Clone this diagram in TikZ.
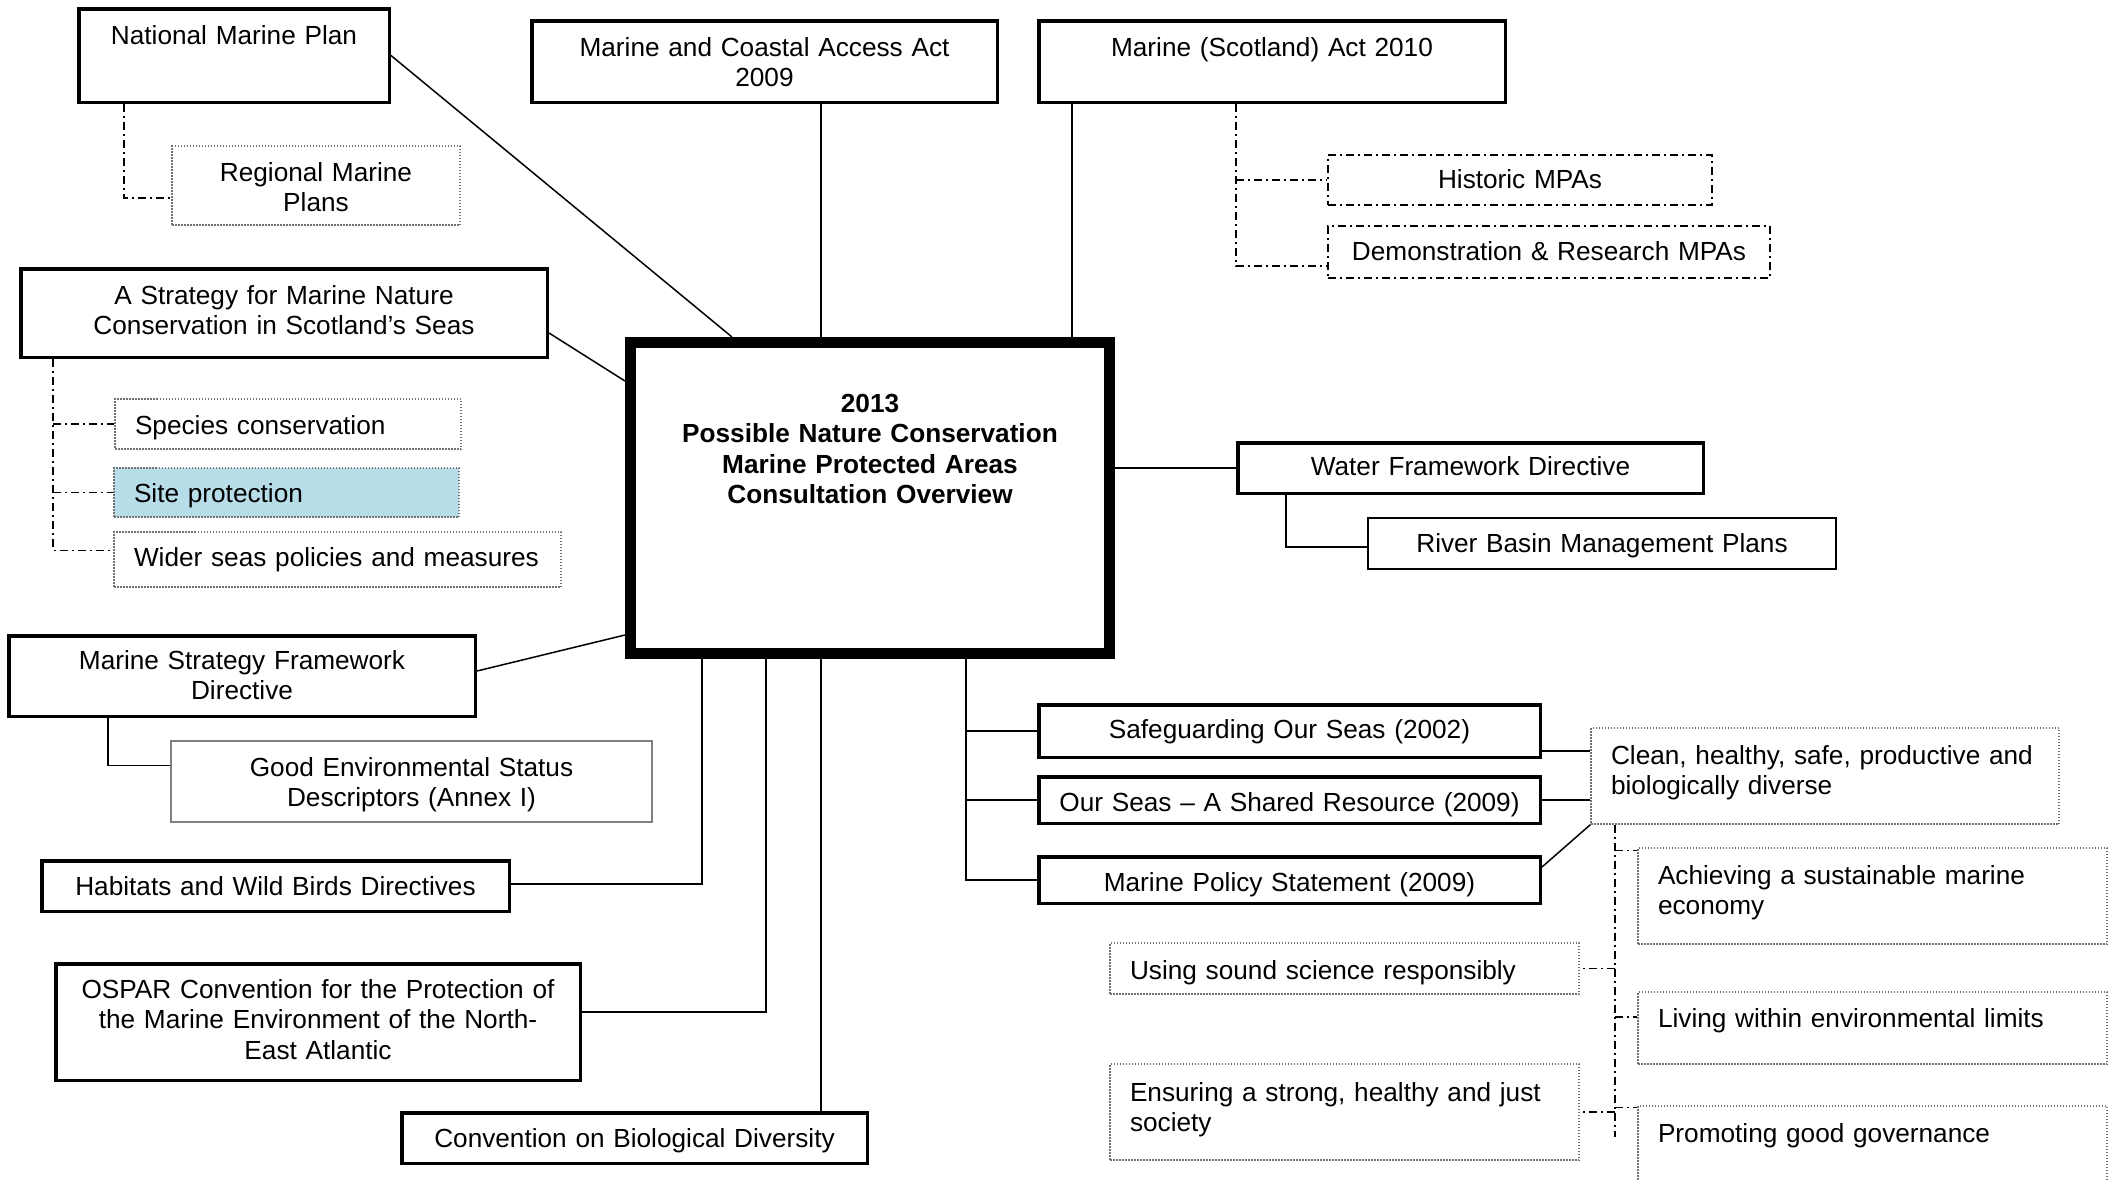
\documentclass[tikz,border=0pt]{standalone}
\usepackage{fontspec}
\setmainfont{Liberation Sans}
\usetikzlibrary{calc}
\definecolor{siteblue}{HTML}{B7DDE8}
\begin{document}
\begin{tikzpicture}[x=1pt,y=-1pt,
  every node/.style={font=\fontsize{26.2}{30.6}\selectfont, inner ysep=0pt},
  cb/.style n args={4}{minimum width=#1pt, text width=#2pt, inner xsep=10pt, text height=#3pt, text depth=#4pt, align=center},
  lb/.style n args={4}{minimum width=#1pt, text width=#2pt, inner xsep=20pt, text height=#3pt, text depth=#4pt, align=left},
  thickbox/.style={draw, line width=3.5pt},
  thinbox/.style={draw, line width=1.5pt},
  dotbox/.style={draw=black!55, line width=1.2pt, dash pattern=on 1.5pt off 1.5pt},
  ddbox/.style={draw, line width=1.5pt, dash pattern=on 8pt off 4pt on 2pt off 4pt},
  conn/.style={line width=1.5pt},
  dconn/.style={line width=1.5pt, dash pattern=on 8pt off 4pt on 2pt off 4pt}]
\fill[white] (0,0) rectangle (2114,1179);
\clip (0,0) rectangle (2114,1179);

% guide x positions
\coordinate (gx821) at (821,0);
\coordinate (gx1072) at (1072,0);
\coordinate (gx124) at (124,0);
\coordinate (gx53) at (53,0);
\coordinate (gx1236) at (1236,0);
\coordinate (gx1286) at (1286,0);
\coordinate (gx108) at (108,0);
\coordinate (gx702) at (702,0);
\coordinate (gx766) at (766,0);
\coordinate (gx966) at (966,0);
\coordinate (gx1615) at (1615,0);
\coordinate (cbot) at (1615,1137);

% centre
\node[draw, line width=11pt, font=\fontsize{26.2}{30.6}\selectfont\bfseries, cb={479}{459}{69.5}{241.5}] (ctr) at (870,498)
  {2013\\Possible Nature Conservation\\Marine Protected Areas\\Consultation Overview};

% top row
\node[thickbox, cb={310.5}{290.5}{35.25}{58.25}] (nmp) at (234,55.5) {National Marine Plan};
\node[thickbox, cb={465.5}{445.5}{35.25}{46.25}] (mcaa) at (764.5,61.5) {Marine and Coastal Access Act\\2009};
\node[thickbox, cb={466.5}{446.5}{35.25}{46.25}] (msa) at (1272,61.5) {Marine (Scotland) Act 2010};
\node[dotbox, cb={288}{268}{35}{44}] (reg) at (316,185.5) {Regional Marine\\Plans};
\node[ddbox, cb={384}{364}{33}{17}] (hist) at (1520,180) {Historic MPAs};
\node[ddbox, cb={442}{422}{34}{18}] (demo) at (1549,252) {Demonstration \& Research MPAs};

% left
\node[thickbox, cb={526.5}{506.5}{35.25}{53.25}] (strat) at (284,313) {A Strategy for Marine Nature\\Conservation in Scotland’s Seas};
\node[dotbox, lb={346}{306}{35}{15}] (spc) at (288,424) {\mbox{Species conservation}};
\node[dotbox, fill=siteblue, lb={345}{305}{34}{15}] (site) at (286.5,492.5) {\mbox{Site protection}};
\node[dotbox, lb={447}{407}{34}{21}] (wider) at (337.5,559.5) {\mbox{Wider seas policies and measures}};
\node[thickbox, cb={466.5}{446.5}{33.25}{47.25}] (msfd) at (242,676) {Marine Strategy Framework\\Directive};
\node[thinbox, draw=black!50, cb={481}{461}{35}{46}] (ges) at (411.5,781.5) {Good Environmental Status\\Descriptors (Annex I)};
\node[thickbox, cb={467.5}{447.5}{34.25}{16.25}] (hab) at (275.5,886) {Habitats and Wild Birds Directives};
\node[thickbox, cb={524.5}{504.5}{34.25}{82.25}] (ospar) at (318,1022) {OSPAR Convention for the Protection of\\the Marine Environment of the North-\\East Atlantic};
\node[thickbox, cb={465.5}{445.5}{34.25}{16.25}] (cbd) at (634.5,1138) {Convention on Biological Diversity};

% right
\node[thickbox, cb={465.5}{445.5}{32.25}{18.25}] (wfd) at (1470.5,468) {Water Framework Directive};
\node[thinbox, cb={468}{448}{34}{17}] (rbmp) at (1602,543.5) {River Basin Management Plans};
\node[thickbox, cb={501.5}{481.5}{33.25}{19.25}] (sos) at (1289.5,731) {Safeguarding Our Seas (2002)};
\node[thickbox, cb={501.5}{481.5}{34.25}{12.25}] (osr) at (1289.5,800) {Our Seas – A Shared Resource (2009)};
\node[thickbox, cb={501.5}{481.5}{34.25}{12.25}] (mps) at (1289.5,880) {Marine Policy Statement (2009)};
\node[dotbox, lb={468}{428}{36}{60}] (clean) at (1825,776) {\mbox{Clean, healthy, safe, productive and}\\\mbox{biologically diverse}};
\node[dotbox, lb={469}{429}{36}{60}] (ach) at (1872.5,896) {\mbox{Achieving a sustainable marine}\\\mbox{economy}};
\node[dotbox, lb={469}{429}{36}{15}] (use) at (1344.5,968.5) {\mbox{Using sound science responsibly}};
\node[dotbox, lb={469}{429}{35}{37}] (liv) at (1872.5,1028) {\mbox{Living within environmental limits}};
\node[dotbox, lb={469}{429}{37}{59}] (ens) at (1344.5,1112) {\mbox{Ensuring a strong, healthy and just}\\\mbox{society}};
\node[dotbox, lb={469}{429}{36}{58}] (pro) at (1872.5,1153) {\mbox{Promoting good governance}};

% solid connectors
\draw[conn] (nmp.east) -- ($(ctr.north west)+(107,0)$);
\draw[conn] (mcaa.south -| gx821) -- (ctr.north -| gx821);
\draw[conn] (msa.south -| gx1072) -- (ctr.north -| gx1072);
\draw[conn] ($(strat.east)+(0,20)$) -- ($(ctr.north west)+(0,44)$);
\draw[conn] (ctr.east |- wfd.west) -- (wfd.west);
\coordinate (rbin) at ($(rbmp.west)+(0,3.5)$);
\draw[conn] (wfd.south -| gx1286) |- (rbin);
\draw[conn] ($(msfd.east)+(0,-5)$) -- ($(ctr.south west)+(0,-24)$);
\coordinate (gesin) at ($(ges.north west)+(0,25)$);
\draw[conn] (msfd.south -| gx108) |- (gesin);
\coordinate (habin) at ($(hab.east)+(0,-2)$);
\draw[conn] (ctr.south -| gx702) |- (habin);
\coordinate (osin) at ($(ospar.east)+(0,-10)$);
\draw[conn] (ctr.south -| gx766) |- (osin);
\draw[conn] (ctr.south -| gx821) -- (cbd.north -| gx821);
\draw[conn] (ctr.south -| gx966) |- (mps.west);
\draw[conn] (gx966 |- sos.west) -- (sos.west);
\draw[conn] (gx966 |- osr.west) -- (osr.west);
\coordinate (sosout) at ($(sos.south east)+(0,-8)$);
\draw[conn] (sosout) -- (sosout -| clean.west);
\draw[conn] (osr.east) -- (osr.east -| clean.west);
\draw[conn] ($(mps.north east)+(0,12)$) -- (clean.south west);

% dash-dot connectors
\coordinate (regin) at ($(reg.west)+(0,12.5)$);
\draw[dconn] (nmp.south -| gx124) |- (regin);
\coordinate (widin) at ($(wider.west)+(0,-9)$);
\draw[dconn] (strat.south -| gx53) |- (widin);
\draw[dconn] (gx53 |- spc.west) -- (spc.west);
\draw[dconn] (gx53 |- site.west) -- (site.west);
\coordinate (demin) at ($(demo.west)+(0,14)$);
\draw[dconn] (msa.south -| gx1236) |- (demin);
\draw[dconn] (gx1236 |- hist.west) -- (hist.west);
\draw[dconn] (clean.south -| gx1615) -- (cbot);
\coordinate (achin) at ($(ach.north west)+(0,3)$);
\draw[dconn] (gx1615 |- achin) -- (achin);
\draw[dconn] (gx1615 |- use.east) -- (use.east);
\coordinate (livin) at ($(liv.west)+(0,-11)$);
\draw[dconn] (gx1615 |- livin) -- (livin);
\draw[dconn] (gx1615 |- ens.east) -- (ens.east);
\coordinate (proin) at ($(pro.north west)+(0,2)$);
\draw[dconn] (gx1615 |- proin) -- (proin);
\end{tikzpicture}
\end{document}
